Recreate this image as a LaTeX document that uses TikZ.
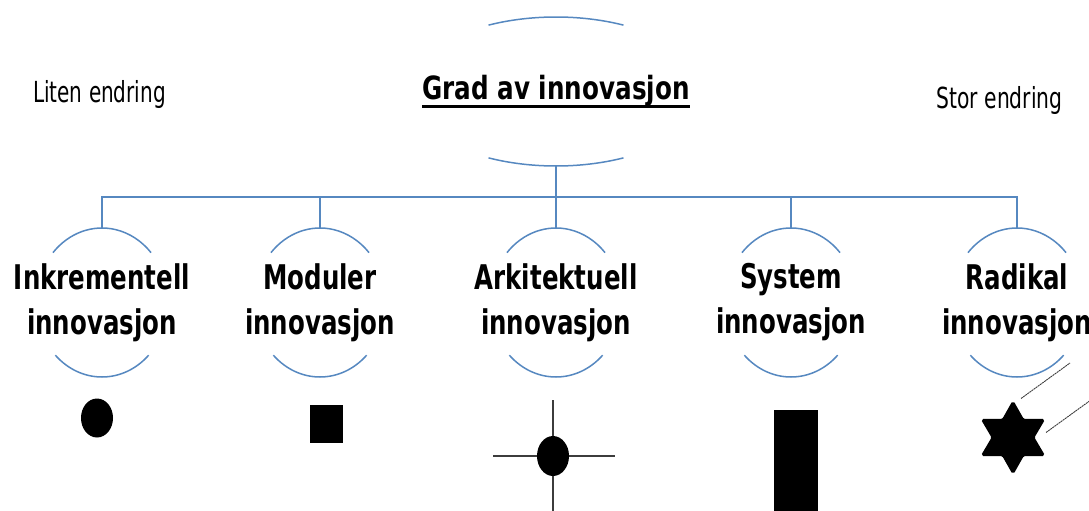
\documentclass[tikz,border=0pt]{standalone}
\usepackage{fontspec}
\setmainfont{DejaVu Sans}
\usetikzlibrary{shapes.geometric}
\definecolor{arcblue}{RGB}{86,136,192}
\definecolor{markgray}{RGB}{60,60,60}
% horizontally narrowed text
\newcommand{\narrow}[2][0.72]{\scalebox{#1}[1]{#2}}
% text with a heavy underline
\newcommand{\ulbar}[1]{\setbox0\hbox{#1}\rlap{\copy0}\raisebox{-8pt}{\rule{\wd0}{2.2pt}}}
\tikzset{
  frame/.style={shape=ellipse, draw=none, inner sep=0pt},
  rootbox/.style={frame, minimum width=297pt, minimum height=149pt,
    font=\bfseries\fontsize{32}{38}\selectfont},
  childbox/.style={frame, minimum width=132pt, minimum height=149pt, align=center,
    font=\bfseries\fontsize{34}{45}\selectfont},
  sidenote/.style={inner sep=0pt, anchor=base, font=\fontsize{29}{34}\selectfont},
  arcline/.style={draw=arcblue, line width=1.5pt},
  conn/.style={draw=arcblue, line width=1.5pt},
  markline/.style={draw=markgray, line width=1.5pt},
  thinline/.style={draw=markgray, line width=0.9pt, dash pattern=on 2pt off 0.6pt},
}
\begin{document}
\begin{tikzpicture}[x=1pt, y=1pt]
\useasboundingbox (0,-511) rectangle (1089,0);

% top level
\node[rootbox] (root) at (556,-91.5) {\narrow[0.77]{\ulbar{Grad av innovasjon}}};
\draw[arcline] ([shift={(117:148.5 and 74.5)}]root.center) arc[start angle=117, end angle=63, x radius=148.5, y radius=74.5];
\draw[arcline] ([shift={(243:148.5 and 74.5)}]root.center) arc[start angle=243, end angle=297, x radius=148.5, y radius=74.5];

\node[sidenote] (liten) at (99.5,-102) {\narrow[0.69]{Liten endring}};
\node[sidenote] (stor) at (999.5,-108) {\narrow[0.70]{Stor endring}};

% the five kinds of innovation
\foreach \name/\xc/\first in {c1/102/Inkrementell, c2/320/Moduler, c3/556/Arkitektuell, c4/791/System, c5/1017/Radikal}{
  \node[childbox] (\name) at (\xc,-302.5) {\narrow{\first}\\\narrow{innovasjon}};
  \draw[arcline] ([shift={(138:66 and 74.5)}]\name.center) arc[start angle=138, end angle=42, x radius=66, y radius=74.5];
  \draw[arcline] ([shift={(225:66 and 74.5)}]\name.center) arc[start angle=225, end angle=315, x radius=66, y radius=74.5];
  \draw[conn] (root.south) -- ++(0,-31) -| (\name.north);
}

% symbols
\node[shape=ellipse, fill=black, minimum width=32pt, minimum height=39pt, inner sep=0pt] (m1) at (97,-418) {};
\node[fill=black, minimum width=33pt, minimum height=38pt, inner sep=0pt] (m2) at (326.5,-424) {};
\coordinate (m3c) at (553,-456);
\draw[markline] ([yshift=56]m3c) -- ([yshift=-56]m3c);
\draw[markline] ([xshift=-60]m3c) -- ([xshift=62]m3c);
\node[shape=ellipse, fill=black, minimum width=32pt, minimum height=40pt, inner sep=0pt] (m3) at (m3c) {};
\node[fill=black, minimum width=44pt, minimum height=110pt, inner sep=0pt, anchor=north] (m4) at (796,-410) {};
\node[shape=star, star points=6, star point ratio=1.75, fill=black, draw=black, line width=2pt, rounded corners=1.5pt, minimum size=71pt, inner sep=0pt] (m5) at (1013,-437.5) {};
\coordinate (r1) at (1070,-363);
\coordinate (r2) at (1095,-397);
\draw[thinline] ([shift={(8,39)}]m5.center) -- (r1);
\draw[thinline] ([shift={(33,5)}]m5.center) -- (r2);
\end{tikzpicture}
\end{document}
